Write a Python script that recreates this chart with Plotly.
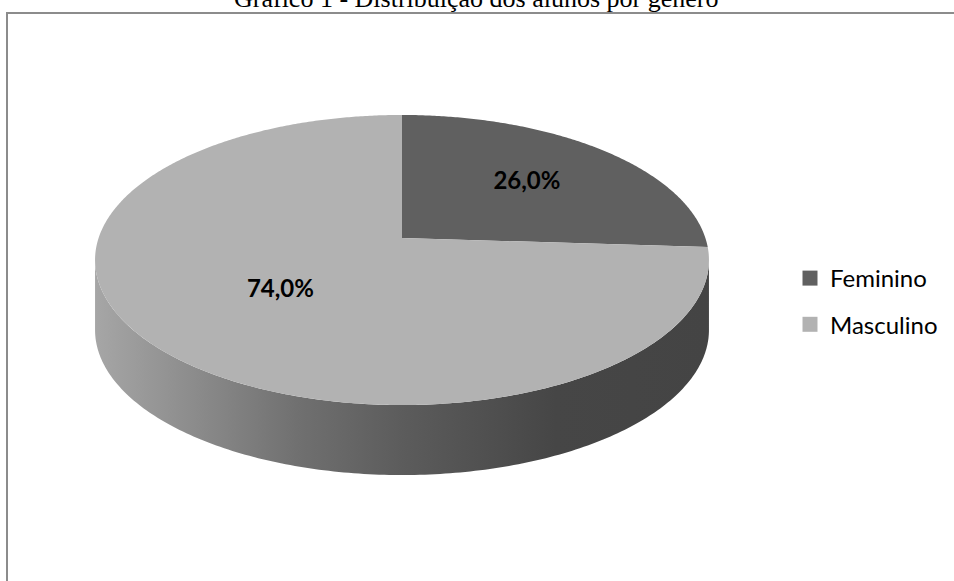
import numpy as np
import plotly.graph_objects as go

# data
categories = ['Feminino', 'Masculino']
values = [26.0, 74.0]
title_text = 'Gráfico 1 - Distribuição dos alunos por gênero'

# look of the 3D pie (pixel space, y grows downwards)
CX, CY = 402, 238          # pie centre on screen
RX, RY = 303.4, 141.7      # radii before perspective
K = 0.1517                 # perspective strength
DEPTH = 70                 # height of the pie wall
LABEL_R = [0.6, 0.52]      # label distance from centre, per slice
top_colors = {'Feminino': '#606060', 'Masculino': '#b2b2b2'}


def project(theta, r=1.0):
    """theta in degrees, clockwise from 12 o'clock"""
    t = np.radians(theta)
    u = r * np.sin(t)
    v = r * np.cos(t)
    d = 1 + K * v
    return CX + RX * u / d, CY - RY * v / d


def fmt(v):
    return f'{v:.1f}%'.replace('.', ',')


total = sum(values)
angles = np.cumsum([0] + [v / total * 360 for v in values])

fig = go.Figure()

# wall (front part, between the two silhouette points)
th_l = np.degrees(np.arccos(-K))
th_r = 360 - th_l
th = np.linspace(th_l, th_r, 200)
wx, wy = project(th)
side_x = np.concatenate([wx, wx[::-1], wx[:1]])
side_y = np.concatenate([wy, wy[::-1] + DEPTH, wy[:1]])
fig.add_trace(go.Scatter(
    x=side_x, y=side_y, mode='none', fill='toself',
    fillgradient=dict(
        type='horizontal',
        colorscale=[[0, '#a6a6a6'], [0.33, '#707070'], [0.5, '#5c5c5c'],
                    [0.75, '#464646'], [1, '#444444']],
    ),
    showlegend=False, hoverinfo='skip'
))

# top faces
for i, name in enumerate(categories):
    a0, a1 = angles[i], angles[i + 1]
    th = np.linspace(a0, a1, max(int(a1 - a0) * 2, 10))
    ax_, ay_ = project(th)
    xs = np.concatenate([[CX], ax_, [CX]])
    ys = np.concatenate([[CY], ay_, [CY]])
    fig.add_trace(go.Scatter(
        x=xs, y=ys, mode='none', fill='toself',
        fillcolor=top_colors[name], showlegend=False,
        hoverinfo='skip'
    ))

# percentage labels
lab_x, lab_y = [], []
for i in range(len(values)):
    mid = (angles[i] + angles[i + 1]) / 2
    lx, ly = project(mid, LABEL_R[i])
    lab_x.append(lx)
    lab_y.append(ly)
fig.add_trace(go.Scatter(
    x=lab_x, y=lab_y, mode='text',
    text=[f'<b>{fmt(v)}</b>' for v in values],
    textfont=dict(family='Lato', size=24, color='black'),
    showlegend=False, hoverinfo='skip'
))

# legend entries
for name in categories:
    fig.add_trace(go.Scatter(
        x=[None], y=[None], mode='markers', name=name,
        legendgroup=name,
        marker=dict(symbol='square', size=15, color=top_colors[name])
    ))

fig.add_shape(type='rect', xref='x', yref='y', x0=7, y0=13, x1=1000, y1=700,
              line=dict(color='#8c8c8c', width=2), layer='below')

# title sits partly above the page edge, as in the original
fig.add_annotation(
    text=title_text, xref='paper', yref='paper', x=476 / 954, y=1 + 1 / 581,
    showarrow=False, xanchor='center', yanchor='middle',
    font=dict(family='Liberation Serif', size=26, color='black')
)

fig.update_layout(
    width=954, height=581, autosize=False,
    margin=dict(l=0, r=0, t=0, b=0),
    plot_bgcolor='white', paper_bgcolor='white',
    xaxis=dict(range=[0, 954], visible=False, fixedrange=True),
    yaxis=dict(range=[581, 0], visible=False, fixedrange=True),
    legend=dict(
        x=790 / 954, y=1 - 256 / 581, xanchor='left', yanchor='top',
        font=dict(family='Lato', size=24, color='black'),
        tracegroupgap=12, bgcolor='rgba(0,0,0,0)'
    ),
    showlegend=True
)

# page margin off so the figure sits at the window's corner
fig.write_html('out.html', config={'displayModeBar': False},
               post_script="document.body.style.margin = '0';")
